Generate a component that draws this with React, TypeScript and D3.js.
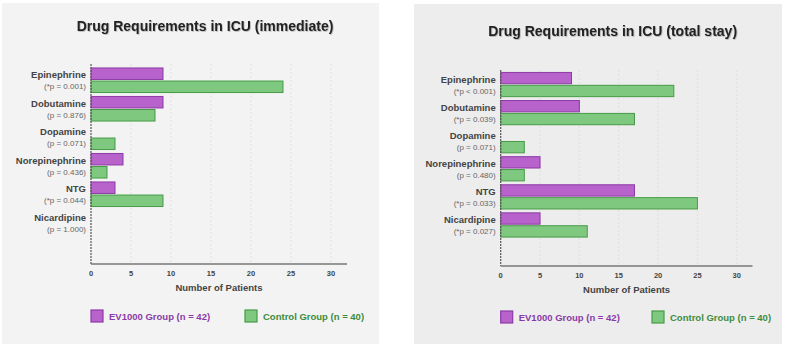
import React from 'react'
import * as d3 from 'd3'

// drug categories and p-value labels
const drugs = ['Epinephrine', 'Dobutamine', 'Dopamine', 'Norepinephrine', 'NTG', 'Nicardipine']
const pImmediate = ['(*p = 0.001)', '(p = 0.876)', '(p = 0.071)', '(p = 0.436)', '(*p = 0.044)', '(p = 1.000)']
const pTotal = ['(*p < 0.001)', '(*p = 0.039)', '(p = 0.071)', '(p = 0.480)', '(*p = 0.033)', '(*p = 0.027)']

// patient counts
const ev1000Immediate = [9, 9, 0, 4, 3, 0]
const controlImmediate = [24, 8, 3, 2, 9, 0]
const ev1000Total = [9, 10, 0, 5, 17, 5]
const controlTotal = [22, 17, 3, 3, 25, 11]

const xTicks = [0, 5, 10, 15, 20, 25, 30]

const PURPLE = '#b862cb'
const PURPLE_DARK = '#8c3ba6'
const GREEN = '#7fc87f'
const GREEN_DARK = '#479b47'
const FONT = '"Liberation Sans", Arial, sans-serif'

type PanelProps = {
  title: string
  pvals: string[]
  ev: number[]
  ctrl: number[]
  box: [number, number, number, number]
  bg: string
  x0: number
  x1: number
  yTop: number
  yBottom: number
  bandTop: number
  bandBottom: number
  titleY: number
  legendY: number
  legend2X: number
}

function Panel(p: PanelProps) {
  const x = d3.scaleLinear().domain([0, 32]).range([p.x0, p.x1])
  const y = d3.scaleBand().domain(drugs).range([p.bandTop, p.bandBottom])
  const sub = d3.scaleBand().domain(['ev', 'ctrl']).range([0, y.bandwidth()]).paddingInner(0.12).paddingOuter(0.15)
  const barH = sub.bandwidth()
  const [bx, by, bw, bh] = p.box
  return (
    <g fontFamily={FONT}>
      <rect x={bx} y={by} width={bw} height={bh} fill={p.bg} />
      <text x={(p.x0 + p.x1) / 2 - 14} y={p.titleY} textAnchor="middle" fontSize={14} fontWeight="bold" fill="#222" filter="url(#shadow)">
        {p.title}
      </text>
      {xTicks.slice(1).map(t => (
        <line key={t} x1={x(t)} x2={x(t)} y1={p.yTop} y2={p.yBottom} stroke="#dcdcdc" strokeDasharray="2,2" strokeWidth={0.8} />
      ))}
      {drugs.map((d, i) => {
        const y0 = y(d) as number
        return (
          <g key={d}>
            {p.ev[i] > 0 && (
              <rect x={x(0)} y={y0 + (sub('ev') as number)} width={x(p.ev[i]) - x(0)} height={barH} fill={PURPLE} stroke={PURPLE_DARK} strokeWidth={1} />
            )}
            {p.ctrl[i] > 0 && (
              <rect x={x(0)} y={y0 + (sub('ctrl') as number)} width={x(p.ctrl[i]) - x(0)} height={barH} fill={GREEN} stroke={GREEN_DARK} strokeWidth={1} />
            )}
            <text x={p.x0 - 5} y={y0 + y.bandwidth() / 2 - 2} textAnchor="end" fontSize={9.5} fontWeight="bold" fill="#444">
              {d}
            </text>
            <text x={p.x0 - 5} y={y0 + y.bandwidth() / 2 + 9} textAnchor="end" fontSize={8} fill="#666">
              {p.pvals[i]}
            </text>
          </g>
        )
      })}
      <line x1={p.x0} x2={p.x0} y1={p.yTop} y2={p.yBottom} stroke="#555" strokeWidth={1.2} strokeDasharray="2,1" />
      <line x1={p.x0} x2={p.x1} y1={p.yBottom} y2={p.yBottom} stroke="#777" strokeWidth={1.5} />
      {xTicks.map(t => (
        <text key={t} x={x(t)} y={p.yBottom + 12} textAnchor="middle" fontSize={7.5} fontWeight="bold" fill="#444">
          {t}
        </text>
      ))}
      <text x={x(16)} y={p.yBottom + 27} textAnchor="middle" fontSize={9.5} fontWeight="bold" fill="#444">
        Number of Patients
      </text>
      <rect x={p.x0} y={p.legendY} width={12} height={12} fill={PURPLE} stroke={PURPLE_DARK} strokeWidth={1.2} />
      <text x={p.x0 + 18} y={p.legendY + 9.5} fontSize={9.5} fontWeight="bold" fill="#8a3aa8">
        EV1000 Group (n = 42)
      </text>
      <rect x={p.legend2X} y={p.legendY} width={12} height={12} fill={GREEN} stroke={GREEN_DARK} strokeWidth={1.2} />
      <text x={p.legend2X + 18} y={p.legendY + 9.5} fontSize={9.5} fontWeight="bold" fill="#3d8c3d">
        Control Group (n = 40)
      </text>
    </g>
  )
}

export default function App() {
  return (
    <svg width={785} height={346} style={{ position: 'absolute', left: 0, top: 0, background: '#fff' }}>
      <defs>
        <filter id="shadow" x="-10%" y="-50%" width="120%" height="200%">
          <feDropShadow dx={0.8} dy={0.8} stdDeviation={0.6} floodColor="#000" floodOpacity={0.25} />
        </filter>
      </defs>
      <Panel
        title="Drug Requirements in ICU (immediate)"
        pvals={pImmediate}
        ev={ev1000Immediate}
        ctrl={controlImmediate}
        box={[2, 3, 377, 341]}
        bg="#f3f3f3"
        x0={91}
        x1={347}
        yTop={64}
        yBottom={264}
        bandTop={66}
        bandBottom={237}
        titleY={31}
        legendY={310}
        legend2X={245}
      />
      <Panel
        title="Drug Requirements in ICU (total stay)"
        pvals={pTotal}
        ev={ev1000Total}
        ctrl={controlTotal}
        box={[414, 4, 368, 340]}
        bg="#ededed"
        x0={500.7}
        x1={752.5}
        yTop={70}
        yBottom={266}
        bandTop={70.5}
        bandBottom={239}
        titleY={36}
        legendY={311}
        legend2X={652}
      />
    </svg>
  )
}
